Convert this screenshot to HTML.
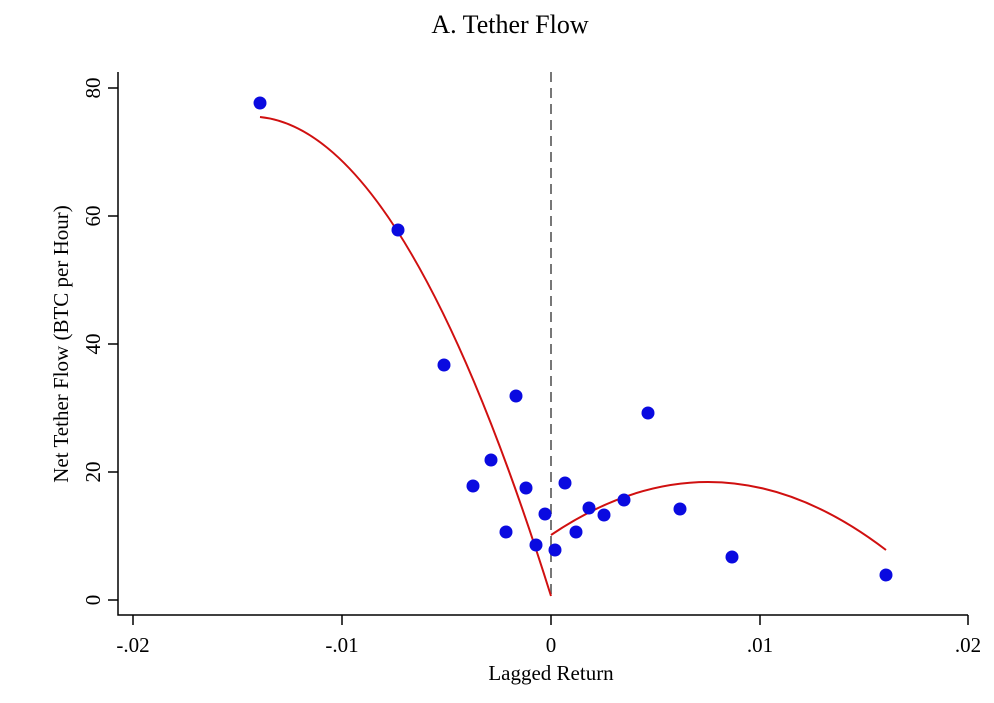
<!DOCTYPE html>
<html><head><meta charset="utf-8"><style>body{margin:0;background:#fff}</style></head><body>
<svg width="994" height="698" xmlns="http://www.w3.org/2000/svg" font-family="Liberation Serif, serif">
<rect width="994" height="698" fill="#fff"/>
<text x="510" y="33" font-size="26" text-anchor="middle">A. Tether Flow</text>
<line x1="551" y1="72" x2="551" y2="600" stroke="#777" stroke-width="2" stroke-dasharray="10,6"/>
<path d="M260 117 Q405.5 131.6 551 596" fill="none" stroke="#d01010" stroke-width="2"/>
<path d="M551 535 Q718.5 421.9 886 550" fill="none" stroke="#d01010" stroke-width="2"/>
<g fill="#0a0ae0">
<circle cx="260" cy="103" r="6.5"/><circle cx="398" cy="230" r="6.5"/><circle cx="444" cy="365" r="6.5"/>
<circle cx="516" cy="396" r="6.5"/><circle cx="491" cy="460" r="6.5"/><circle cx="473" cy="486" r="6.5"/>
<circle cx="526" cy="488" r="6.5"/><circle cx="506" cy="532" r="6.5"/><circle cx="536" cy="545" r="6.5"/>
<circle cx="545" cy="514" r="6.5"/><circle cx="555" cy="550" r="6.5"/><circle cx="565" cy="483" r="6.5"/>
<circle cx="576" cy="532" r="6.5"/><circle cx="589" cy="508" r="6.5"/><circle cx="604" cy="515" r="6.5"/>
<circle cx="624" cy="500" r="6.5"/><circle cx="648" cy="413" r="6.5"/><circle cx="680" cy="509" r="6.5"/>
<circle cx="732" cy="557" r="6.5"/><circle cx="886" cy="575" r="6.5"/>
</g>
<g stroke="#000" stroke-width="1.5" fill="none">
<path d="M118 72 V615 H968"/>
<path d="M108 88H118M108 216H118M108 344H118M108 472H118M108 600H118"/>
<path d="M133 615V625M342 615V625M551 615V625M760 615V625M968 615V625"/>
</g>
<g font-size="21" text-anchor="middle">
<text x="133" y="652">-.02</text><text x="342" y="652">-.01</text><text x="551" y="652">0</text>
<text x="760" y="652">.01</text><text x="968" y="652">.02</text>
<text x="551" y="680">Lagged Return</text>
</g>
<g font-size="21" text-anchor="middle">
<text transform="translate(100,88) rotate(-90)">80</text>
<text transform="translate(100,216) rotate(-90)">60</text>
<text transform="translate(100,344) rotate(-90)">40</text>
<text transform="translate(100,472) rotate(-90)">20</text>
<text transform="translate(100,600) rotate(-90)">0</text>
<text transform="translate(68,344) rotate(-90)">Net Tether Flow (BTC per Hour)</text>
</g>
</svg>
</body></html>
